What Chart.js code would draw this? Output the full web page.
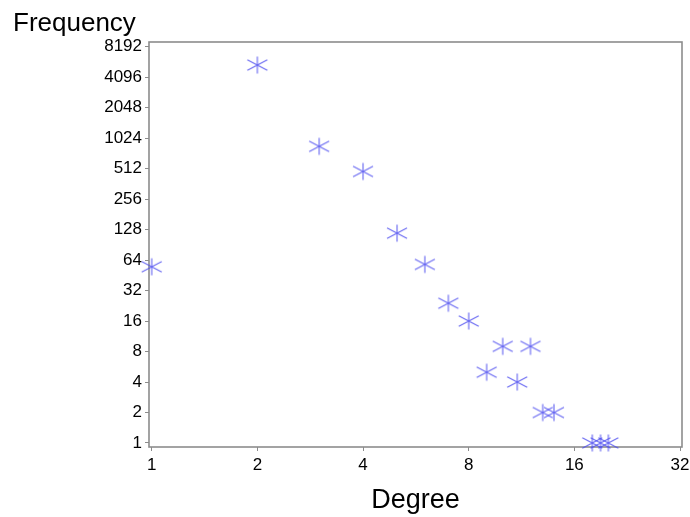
<!DOCTYPE html>
<html>
<head>
<meta charset="utf-8">
<script src="https://cdn.jsdelivr.net/npm/chart.js@4/dist/chart.umd.min.js"></script>
<style>
  html, body { margin: 0; padding: 0; background: #fff; }
  #wrap { width: 690px; height: 517px; }
</style>
</head>
<body>
<div id="wrap"><canvas id="c" width="690" height="517"></canvas></div>
<script>
// ---- data ----
const degrees     = [1, 2, 3, 4, 5, 6, 7, 8, 9, 10, 11, 12, 13, 14, 18, 19, 20];
const frequencies = [55, 5400, 850, 480, 118, 58, 24, 16, 5, 9, 4, 9, 2, 2, 1, 1, 1];
const xTickValues = [1, 2, 4, 8, 16, 32];
const yTickValues = [1, 2, 4, 8, 16, 32, 64, 128, 256, 512, 1024, 2048, 4096, 8192];

// ---- asterisk marker (6 arms) ----
function makeStar() {
  const s = 26, c = 13;
  const cv = document.createElement('canvas');
  cv.width = s; cv.height = s;
  const g = cv.getContext('2d');
  g.strokeStyle = 'rgba(80,80,240,0.85)';
  g.lineWidth = 1.15;
  g.beginPath();
  g.moveTo(c, c - 8.5); g.lineTo(c, c + 8.5);
  g.moveTo(c - 10, c - 5.2); g.lineTo(c + 10, c + 5.2);
  g.moveTo(c - 10, c + 5.2); g.lineTo(c + 10, c - 5.2);
  g.stroke();
  return cv;
}
const star = makeStar();

const framePlugin = {
  id: 'frame',
  beforeDatasetsDraw(chart) {
    const { ctx, chartArea: a } = chart;
    ctx.save();
    ctx.strokeStyle = '#8c8c8c';
    ctx.lineWidth = 1.6;
    ctx.strokeRect(a.left, a.top, a.right - a.left, a.bottom - a.top);
    ctx.restore();
  }
};

const tickFont = { family: '"Liberation Sans", Arial, sans-serif', size: 17 };

new Chart(document.getElementById('c'), {
  type: 'scatter',
  data: {
    datasets: [{
      data: degrees.map((d, i) => ({ x: d, y: frequencies[i] })),
      pointStyle: star,
      pointRadius: 10,
      pointHoverRadius: 10,
      clip: false
    }]
  },
  options: {
    responsive: false,
    animation: false,
    events: [],
    layout: { autoPadding: false, padding: { left: 13, right: 8, top: 0, bottom: 0 } },
    plugins: {
      legend: { display: false },
      tooltip: { enabled: false },
      title: {
        display: true,
        text: 'Frequency',
        align: 'start',
        color: '#000',
        font: { family: '"Liberation Sans", Arial, sans-serif', size: 26, weight: 'normal', lineHeight: 1.2 },
        padding: { top: 8, bottom: 2.8 }
      }
    },
    scales: {
      x: {
        type: 'logarithmic',
        min: 0.9824,
        max: 32.42,
        afterBuildTicks(scale) { scale.ticks = xTickValues.map(v => ({ value: v })); },
        afterFit(scale) { scale.height = 70; scale.paddingLeft = 0; scale.paddingRight = 0; },
        grid: { drawOnChartArea: false, drawTicks: true, tickLength: 4, color: '#8c8c8c' },
        border: { display: false },
        ticks: {
          color: '#000',
          font: tickFont,
          padding: 4,
          maxRotation: 0,
          autoSkip: false,
          callback: (v) => String(v)
        },
        title: {
          display: true,
          text: 'Degree',
          color: '#000',
          font: { family: '"Liberation Sans", Arial, sans-serif', size: 27, lineHeight: 1.2 },
          padding: { top: 0, bottom: 0 }
        }
      },
      y: {
        type: 'logarithmic',
        min: 0.913,
        max: 9116,
        afterBuildTicks(scale) { scale.ticks = yTickValues.map(v => ({ value: v })); },
        afterFit(scale) { scale.width = 136; scale.paddingTop = 0; scale.paddingBottom = 0; },
        grid: { drawOnChartArea: false, drawTicks: true, tickLength: 4, color: '#8c8c8c' },
        border: { display: false },
        ticks: {
          color: '#000',
          font: tickFont,
          padding: 3,
          autoSkip: false,
          callback: (v) => String(v)
        }
      }
    }
  },
  plugins: [framePlugin]
});
</script>
</body>
</html>
